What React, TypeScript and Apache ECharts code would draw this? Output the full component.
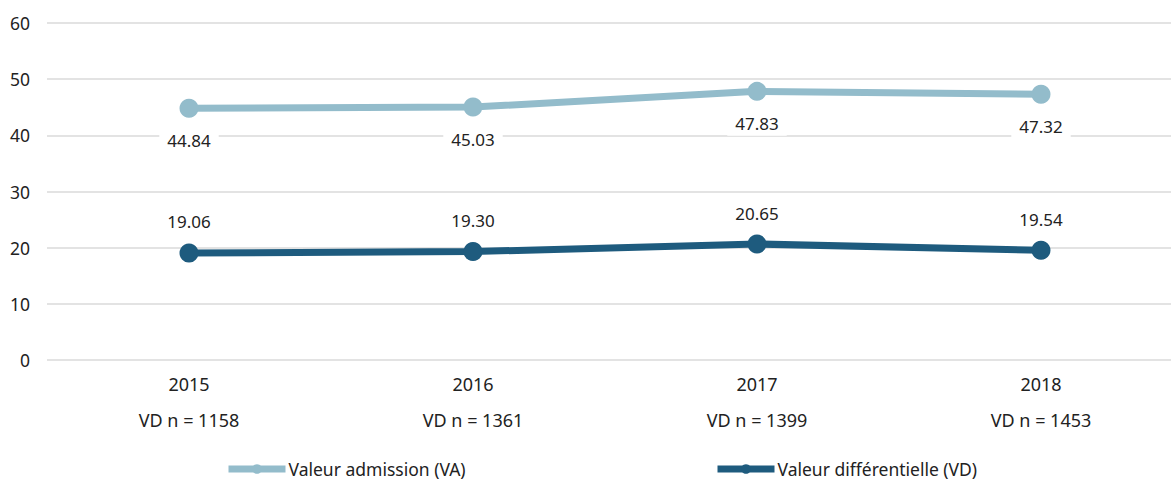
import React, { useEffect, useRef } from "react";
import * as echarts from "echarts";

const years = ["2015", "2016", "2017", "2018"];
const vdCounts = [1158, 1361, 1399, 1453];
const vaValues = [44.84, 45.03, 47.83, 47.32];
const vdValues = [19.06, 19.3, 20.65, 19.54];
const yTicks = { min: 0, max: 60, interval: 10 };
const seriesNames = ["Valeur admission (VA)", "Valeur différentielle (VD)"];

const FONT = "'Noto Sans', 'Open Sans', sans-serif";
const TEXT = "#222222";
const VA_COLOR = "#93bccb";
const VD_COLOR = "#1e5b7e";

export default function App() {
  const ref = useRef<HTMLDivElement>(null);
  useEffect(() => {
    if (!ref.current) return;
    const chart = echarts.init(ref.current, undefined, { renderer: "svg" });
    const labelBase = {
      show: true,
      position: "inside",
      color: TEXT,
      fontFamily: FONT,
      fontSize: 17,
      backgroundColor: "#ffffff",
      padding: [4, 8],
      formatter: (p: any) => Number(p.value).toFixed(2),
    };
    const legendBase = {
      top: 460,
      padding: 0,
      itemWidth: 57,
      itemHeight: 12,
      itemGap: 0,
      lineStyle: { width: 7 },
      textStyle: {
        fontFamily: FONT,
        fontSize: 17.5,
        lineHeight: 18,
        color: TEXT,
        padding: [0, 0, 0, -2],
      },
    };
    chart.setOption({
      animation: false,
      textStyle: { fontFamily: FONT, color: TEXT },
      grid: {
        left: 47,
        right: -12,
        top: 23,
        bottom: 120,
        containLabel: false,
        outerBoundsMode: "none",
      },
      legend: [
        { ...legendBase, data: [seriesNames[0]], left: 225 },
        { ...legendBase, data: [seriesNames[1]], left: 714 },
      ],
      xAxis: {
        type: "category",
        data: years,
        boundaryGap: true,
        axisLine: { show: false },
        axisTick: { show: false },
        axisLabel: {
          margin: 6,
          fontFamily: FONT,
          fontSize: 18,
          color: TEXT,
          lineHeight: 36,
          formatter: (v: string, i: number) => `${v}\nVD n = ${vdCounts[i]}`,
        },
      },
      yAxis: {
        type: "value",
        min: yTicks.min,
        max: yTicks.max,
        interval: yTicks.interval,
        axisLine: { show: false },
        axisTick: { show: false },
        axisLabel: { margin: 17, fontFamily: FONT, fontSize: 17.5, color: TEXT },
        splitLine: { lineStyle: { color: "#e3e3e3", width: 2 } },
      },
      series: [
        {
          name: seriesNames[0],
          type: "line",
          data: vaValues,
          symbol: "circle",
          symbolSize: 19,
          itemStyle: { color: VA_COLOR },
          lineStyle: { color: VA_COLOR, width: 7 },
          label: { ...labelBase, offset: [0, 32] },
        },
        {
          name: seriesNames[1],
          type: "line",
          data: vdValues,
          symbol: "circle",
          symbolSize: 19,
          itemStyle: { color: VD_COLOR },
          lineStyle: { color: VD_COLOR, width: 7 },
          label: { ...labelBase, offset: [0, -31] },
        },
      ],
    });
    return () => chart.dispose();
  }, []);
  return (
    <div
      ref={ref}
      style={{ position: "fixed", left: 0, top: 0, width: 1171, height: 480, background: "#fff" }}
    />
  );
}
